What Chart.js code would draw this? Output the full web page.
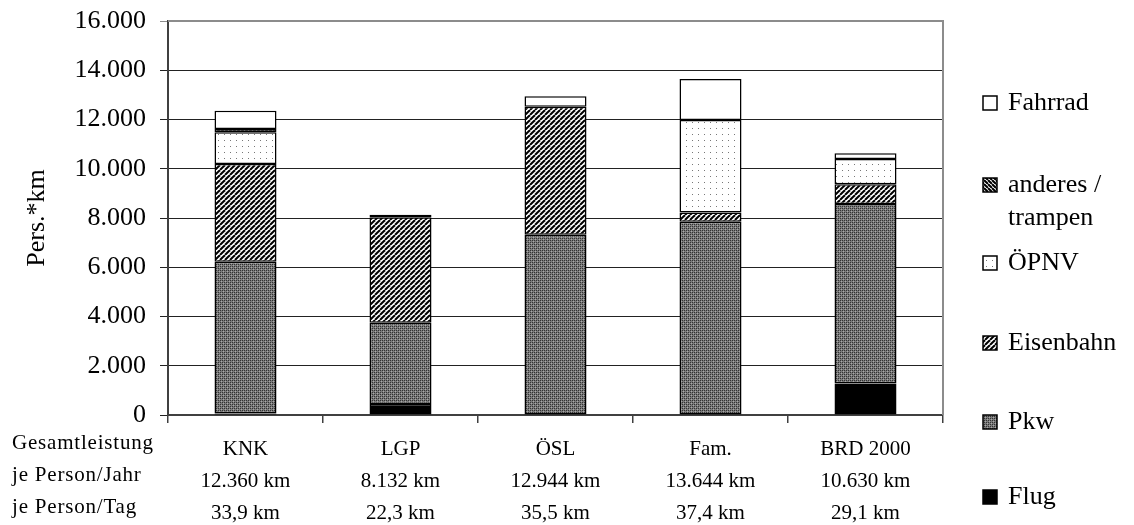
<!DOCTYPE html>
<html><head><meta charset="utf-8">
<script src="https://cdn.jsdelivr.net/npm/chart.js@4.4.1/dist/chart.umd.min.js"></script>
<style>html,body{margin:0;padding:0;background:#fff;}#wrap{position:relative;width:1134px;height:525px;}</style>
</head><body><div id="wrap"><canvas id="c" width="1134" height="525"></canvas></div>
<script>
// ---- data ----
const categories = ['KNK', 'LGP', 'ÖSL', 'Fam.', 'BRD 2000'];
const perYear = ['12.360 km', '8.132 km', '12.944 km', '13.644 km', '10.630 km'];
const perDay = ['33,9 km', '22,3 km', '35,5 km', '37,4 km', '29,1 km'];
const rowLabels = ['Gesamtleistung', 'je Person/Jahr', 'je Person/Tag'];
const seriesNames = ['Flug', 'Pkw', 'Eisenbahn', 'ÖPNV', 'anderes / trampen', 'Fahrrad'];
const legendLines = [['Flug'], ['Pkw'], ['Eisenbahn'], ['ÖPNV'], ['anderes /', 'trampen'], ['Fahrrad']];
const flug      = [60, 450, 0, 0, 1280];
const pkw       = [6160, 3300, 7320, 7850, 7290];
const eisenbahn = [3970, 4282, 5200, 370, 800];
const oepnv     = [1290, 0, 0, 3760, 1030];
const anderes   = [130, 100, 0, 0, 0];
const fahrrad   = [750, 0, 424, 1664, 230];
const yTicks = [0, 2000, 4000, 6000, 8000, 10000, 12000, 14000, 16000];
const yTitle = 'Pers.*km';

// ---- patterns ----
const mainCtx = document.getElementById('c').getContext('2d');
function tile(w, h, draw) {
  const c = document.createElement('canvas'); c.width = w; c.height = h;
  const g = c.getContext('2d'); draw(g, w, h);
  return mainCtx.createPattern(c, 'repeat');
}
const pFlug = '#000000';
const pPkw = tile(4, 4, (g) => {
  g.fillStyle = '#7a7a7a'; g.fillRect(0, 0, 4, 4);
  g.fillStyle = '#333333'; g.fillRect(0, 0, 1, 1); g.fillRect(2, 2, 1, 1); g.fillRect(0, 2, 1, 1); g.fillRect(2, 0, 1, 1);
  g.fillStyle = '#a8a8a8'; g.fillRect(1, 1, 1, 1); g.fillRect(3, 3, 1, 1);
});
const pEisen = tile(5, 5, (g) => {
  g.fillStyle = '#fff'; g.fillRect(0, 0, 5, 5);
  g.strokeStyle = '#000'; g.lineWidth = 2;
  for (const k of [-5, 0, 5]) { g.beginPath(); g.moveTo(k, 5); g.lineTo(k + 5, 0); g.stroke(); }
});
const pOepnv = tile(6, 6, (g) => {
  g.fillStyle = '#fff'; g.fillRect(0, 0, 6, 6);
  g.fillStyle = '#777'; g.fillRect(2, 2, 1, 1);
});
const pAnderes = tile(4, 4, (g) => {
  g.fillStyle = '#fff'; g.fillRect(0, 0, 4, 4);
  g.strokeStyle = '#000'; g.lineWidth = 2;
  for (const k of [-4, 0, 4]) { g.beginPath(); g.moveTo(k, 0); g.lineTo(k + 4, 4); g.stroke(); }
});
const pFahrrad = '#ffffff';
const fills = [pFlug, pPkw, pEisen, pOepnv, pAnderes, pFahrrad];
const values = [flug, pkw, eisenbahn, oepnv, anderes, fahrrad];

const serif = "'Liberation Serif', 'Times New Roman', serif";

const decor = {
  id: 'decor',
  afterDraw(chart) {
    const { ctx, chartArea: a } = chart;
    ctx.save();
    // top & right frame
    ctx.strokeStyle = '#8c8c8c'; ctx.lineWidth = 2;
    ctx.beginPath(); ctx.moveTo(a.left, a.top); ctx.lineTo(a.right, a.top); ctx.lineTo(a.right, a.bottom); ctx.stroke();
    // row labels on the left of the category labels
    ctx.fillStyle = '#000'; ctx.font = '21px ' + serif; ctx.textAlign = 'left'; ctx.textBaseline = 'top';
    if ('letterSpacing' in ctx) ctx.letterSpacing = '0.8px';
    const y0 = a.bottom + 8 + 10;
    rowLabels.forEach((t, i) => ctx.fillText(t, 12, y0 + i * 32));
    if ('letterSpacing' in ctx) ctx.letterSpacing = '0px';
    // legend
    const ys = [497, 422, 343, 263, 185, 103];
    ctx.font = '26px ' + serif; ctx.textBaseline = 'middle';
    for (let i = 0; i < seriesNames.length; i++) {
      const y = ys[i];
      ctx.fillStyle = fills[i]; ctx.fillRect(983, y - 7, 14, 14);
      ctx.strokeStyle = '#000'; ctx.lineWidth = 1.5; ctx.strokeRect(983, y - 7, 14, 14);
      ctx.fillStyle = '#000';
      legendLines[i].forEach((t, j) => ctx.fillText(t, 1008, y + j * 33));
    }
    ctx.restore();
  }
};

new Chart(document.getElementById('c'), {
  type: 'bar',
  data: {
    labels: categories.map((c, i) => [c, perYear[i], perDay[i]]),
    datasets: seriesNames.map((n, i) => ({
      label: n, data: values[i].map(v => (v === 0 ? null : v)), backgroundColor: fills[i],
      borderColor: '#000', borderWidth: 1.5, borderSkipped: false,
      categoryPercentage: 1, barPercentage: 0.4
    }))
  },
  options: {
    responsive: false, animation: false,
    layout: { padding: { left: 0, top: 21, right: 191, bottom: 0 } },
    plugins: { legend: { display: false }, tooltip: { enabled: false }, title: { display: false } },
    scales: {
      x: {
        stacked: true, offset: true,
        grid: { display: true, drawOnChartArea: false, drawTicks: true, tickLength: 8, color: '#404040', lineWidth: 1.5, offset: true },
        border: { display: true, color: '#404040', width: 2 },
        ticks: { color: '#000', font: { family: serif, size: 21, lineHeight: '32px' }, padding: 10, maxRotation: 0, autoSkip: false },
        afterFit(s) { s.height = 110; s.paddingLeft = 0; s.paddingRight = 0; }
      },
      y: {
        stacked: true, min: 0, max: 16000,
        afterBuildTicks(s) { s.ticks = yTicks.map(v => ({ value: v })); },
        grid: {
          drawTicks: true, tickLength: 8, lineWidth: 1,
          color: (c) => (c.tick && c.tick.value === 16000) ? '#8c8c8c' : '#222'
        },
        border: { display: true, color: '#404040', width: 2 },
        ticks: {
          color: '#000', font: { family: serif, size: 26 }, padding: 14,
          callback: (v) => v.toLocaleString('de-DE')
        },
        title: { display: true, text: yTitle, color: '#000', font: { family: serif, size: 26 }, padding: { top: 22, bottom: 0 } },
        afterFit(s) { s.width = 168; s.paddingTop = 0; s.paddingBottom = 0; }
      }
    }
  },
  plugins: [decor]
});
</script></body></html>
